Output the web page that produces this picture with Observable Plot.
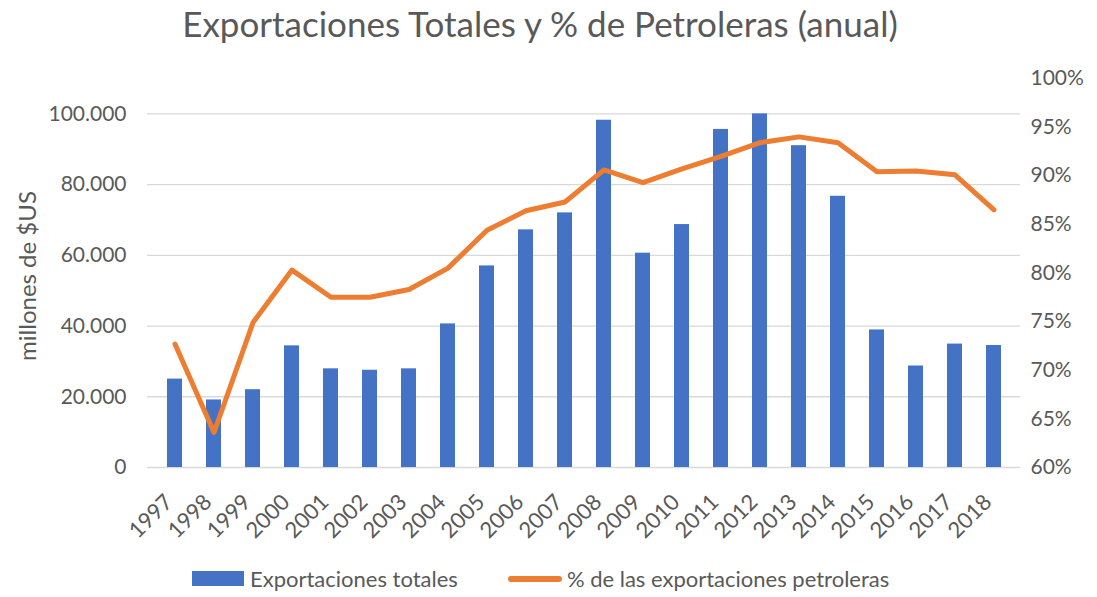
<!DOCTYPE html>
<html>
<head>
<meta charset="utf-8">
<script src="https://cdn.jsdelivr.net/npm/d3@7"></script>
<script src="https://cdn.jsdelivr.net/npm/@observablehq/plot@0.6"></script>
<style>
  html, body { margin: 0; padding: 0; background: #fff; }
  body { width: 1097px; height: 597px; position: relative; overflow: hidden; font-family: Lato, "Open Sans", sans-serif; color: #595959; }
  #title { position: absolute; left: 540px; top: 2px; transform: translateX(-50%); font-size: 35px; line-height: 42px; white-space: nowrap; }
  #chart { position: absolute; left: 0; top: 0; }
  #legend { position: absolute; left: 192px; top: 565px; display: flex; align-items: center; font-size: 22px; white-space: nowrap; }
  .sw-bar { width: 52px; height: 15px; background: #4472c4; margin-right: 6px; }
  .sw-line { width: 54px; height: 6px; border-radius: 3px; background: #ed7d31; margin-left: 50px; margin-right: 5px; }
</style>
</head>
<body>
<div id="title">Exportaciones Totales y % de Petroleras (anual)</div>
<div id="chart"></div>
<div id="legend"><div class="sw-bar"></div><span>Exportaciones totales</span><div class="sw-line"></div><span>% de las exportaciones petroleras</span></div>
<script>
const years = ["1997","1998","1999","2000","2001","2002","2003","2004","2005","2006","2007","2008","2009","2010","2011","2012","2013","2014","2015","2016","2017","2018"];
const totals = [25000,19100,22000,34400,27900,27500,27900,40600,57000,67200,72000,98200,60600,68700,95600,100000,91000,76700,38900,28700,34900,34500];
const pctPetro = [72.7,63.6,74.9,80.3,77.5,77.5,78.3,80.5,84.4,86.4,87.3,90.6,89.3,90.7,92.0,93.4,94.0,93.4,90.4,90.5,90.1,86.5];
const leftTicks = [0,20000,40000,60000,80000,100000];
const rightTicks = [60,65,70,75,80,85,90,95,100];
const yLabel = "millones de $US";

const leftMax = 110000;
const pMin = 60, pMax = 100;
const toLeft = p => (p - pMin) / (pMax - pMin) * leftMax;
const fromLeft = v => v / leftMax * (pMax - pMin) + pMin;

const data = years.map((y, i) => ({year: y, total: totals[i], pct: pctPetro[i]}));
const fmt = v => d3.format(",")(v).replace(/,/g, ".");

const chart = Plot.plot({
  width: 1097,
  height: 597,
  marginTop: 78,
  marginBottom: 130,
  marginLeft: 147,
  marginRight: 77,
  style: {fontFamily: "Lato, 'Open Sans', sans-serif", color: "#595959", background: "transparent"},
  x: {type: "band", domain: years, paddingInner: 0.62, paddingOuter: 0.31},
  y: {domain: [0, leftMax]},
  marks: [
    Plot.gridY(leftTicks, {stroke: "#d9d9d9", strokeOpacity: 1, strokeWidth: 1.3}),
    Plot.barY(data, {x: "year", y: "total", fill: "#4472c4"}),
    Plot.lineY(data, {x: "year", y: d => toLeft(d.pct), stroke: "#ed7d31", strokeWidth: 5, strokeLinejoin: "round", strokeLinecap: "round"}),
    Plot.axisY(leftTicks, {anchor: "left", tickSize: 0, tickPadding: 21, tickFormat: fmt, fontSize: 21, label: null}),
    Plot.text([yLabel], {frameAnchor: "left", textAnchor: "middle", dx: -119, dy: 3, rotate: -90, fontSize: 24, fill: "#595959"}),
    Plot.axisY(rightTicks.map(toLeft), {anchor: "right", tickSize: 0, tickPadding: 10, fontSize: 21,
      tickFormat: v => Math.round(fromLeft(v)) + "%", label: null}),
    Plot.axisX({tickSize: 0, tickRotate: -45, tickPadding: 31, dx: -6, fontSize: 22, label: null})
  ]
});
document.getElementById("chart").appendChild(chart);
</script>
</body>
</html>
